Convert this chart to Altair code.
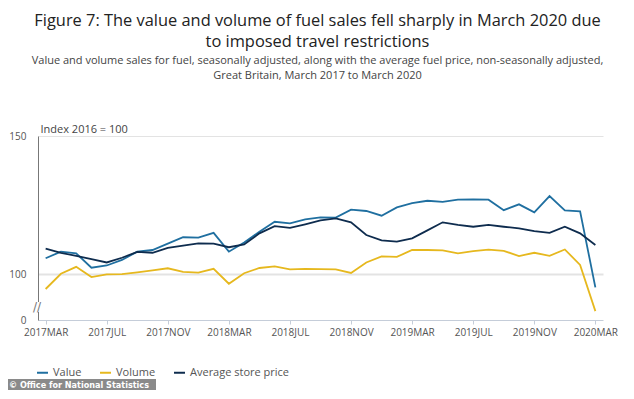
import altair as alt
import pandas as pd

months = [
    "2017MAR","2017APR","2017MAY","2017JUN","2017JUL","2017AUG","2017SEP","2017OCT","2017NOV","2017DEC",
    "2018JAN","2018FEB","2018MAR","2018APR","2018MAY","2018JUN","2018JUL","2018AUG","2018SEP","2018OCT",
    "2018NOV","2018DEC","2019JAN","2019FEB","2019MAR","2019APR","2019MAY","2019JUN","2019JUL","2019AUG",
    "2019SEP","2019OCT","2019NOV","2019DEC","2020JAN","2020FEB","2020MAR",
]
value = [105.8,108.2,107.6,102.4,103.2,105.2,108.2,108.8,111.1,113.4,
         113.3,115.0,108.2,111.5,115.4,119.0,118.4,119.9,120.6,120.5,
         123.4,122.9,121.2,124.2,125.7,126.6,126.2,127.0,127.1,127.0,
         123.2,125.3,122.4,128.3,123.1,122.8,95.3]
volume = [94.7,100.2,102.7,99.0,100.0,100.1,100.7,101.4,102.2,100.9,
          100.6,102.0,96.6,100.4,102.3,102.9,101.8,102.0,101.9,101.8,
          100.5,104.3,106.5,106.3,108.8,108.8,108.7,107.6,108.4,108.9,
          108.5,106.6,107.8,106.7,109.0,103.4,86.7]
price = [109.3,107.8,106.7,105.5,104.3,106.0,108.1,107.8,109.6,110.4,
         111.2,111.1,109.8,110.8,114.8,117.4,116.8,118.1,119.5,120.2,
         118.8,114.2,112.3,111.8,113.0,115.9,118.8,117.9,117.2,117.9,
         117.2,116.6,115.6,115.0,117.2,114.8,110.6]

series_names = ["Value", "Volume", "Average store price"]
series_colors = ["#1f6fa0", "#e6b81e", "#0e2c4e"]
tick_months = months[::4]
y_ticks = [83.5, 100, 150]

rows = []
for name, vals in zip(series_names, [value, volume, price]):
    for m, v in zip(months, vals):
        rows.append({"month": m, "series": name, "index": v})
df = pd.DataFrame(rows)

x_enc = alt.X("month:N", sort=months,
              scale=alt.Scale(type="point", padding=0.5),
              axis=alt.Axis(values=tick_months, labelAngle=0, title=None,
                            domainColor="#c5cdd9", tickColor="#c5cdd9", tickSize=4,
                            labelFontSize=10, labelColor="#555555", labelPadding=3,
                            labelFont="Open Sans", grid=False))

y_enc = alt.Y("index:Q",
              scale=alt.Scale(domain=[83.5, 150], nice=False, zero=False),
              axis=alt.Axis(values=y_ticks, labelExpr="datum.value < 90 ? '0' : datum.label",
                            title="Index 2016 = 100", titleAngle=0, titleX=2, titleY=-7,
                            titleAlign="left", titleBaseline="middle", titleFontWeight="normal",
                            titleFontSize=11, titleColor="#444444", titleFont="Open Sans",
                            labelFontSize=10, labelColor="#555555", labelFont="Open Sans",
                            labelPadding=12, ticks=False, domainColor="#777777",
                            grid=True, gridColor={"condition": {"test": "datum.value < 90", "value": "transparent"}, "value": "#e3e3e3"},
                            gridWidth={"condition": {"test": "datum.value === 100", "value": 2}, "value": 1}))

lines = alt.Chart(df).mark_line(strokeWidth=1.8).encode(
    x=x_enc,
    y=y_enc,
    color=alt.Color("series:N", sort=series_names,
                    scale=alt.Scale(domain=series_names, range=series_colors),
                    legend=alt.Legend(title=None, orient="none", legendX=-2, legendY=230,
                                      direction="horizontal", symbolType="stroke",
                                      symbolSize=120, symbolStrokeWidth=2, labelFontSize=11,
                                      labelColor="#555555", labelFont="Open Sans",
                                      columnPadding=14, labelOffset=4)),
    detail="series:N",
)

brk_bg = alt.Chart(pd.DataFrame({"k": [0]})).mark_rect(color="white").encode(
    x=alt.value(-4), x2=alt.value(4), y=alt.value(166), y2=alt.value(176))
brk = alt.Chart(pd.DataFrame({"t": ["//"]})).mark_text(
    fontSize=12, color="#777777", font="DejaVu Sans", align="center", baseline="middle"
).encode(text="t:N", x=alt.value(-1), y=alt.value(171))

foot_bg = alt.Chart(pd.DataFrame({"k": [0]})).mark_rect(color="#8a8a8a").encode(
    x=alt.value(-30), x2=alt.value(118), y=alt.value(243), y2=alt.value(254))
foot = alt.Chart(pd.DataFrame({"t": ["© Office for National Statistics"]})).mark_text(
    fontSize=9, color="white", fontWeight="bold",
    font="Liberation Sans Narrow, DejaVu Sans Condensed, Arial Narrow, Liberation Sans, sans-serif",
    align="left", baseline="middle"
).encode(text="t:N", x=alt.value(-29), y=alt.value(248.5))

chart = alt.layer(lines, brk_bg, brk, foot_bg, foot).properties(
    width=565, height=184,
    autosize=alt.AutoSizeParams(type="none"),
    padding={"left": 30, "top": 128, "right": 15, "bottom": 70},
    title=alt.TitleParams(
        text=["Figure 7: The value and volume of fuel sales fell sharply in March 2020 due",
              "to imposed travel restrictions"],
        subtitle=["Value and volume sales for fuel, seasonally adjusted, along with the average fuel price, non-seasonally adjusted,",
                  "Great Britain, March 2017 to March 2020"],
        anchor="middle", fontSize=16.4, font="Open Sans", fontWeight="normal", color="#222222",
        lineHeight=21, subtitleFont="Open Sans", subtitleFontSize=11, subtitleColor="#444444",
        subtitleLineHeight=15, subtitlePadding=5, offset=42, dx=-3),
).configure_view(stroke=None)

chart.save("out.html", embed_options={"renderer": "svg", "actions": False})
